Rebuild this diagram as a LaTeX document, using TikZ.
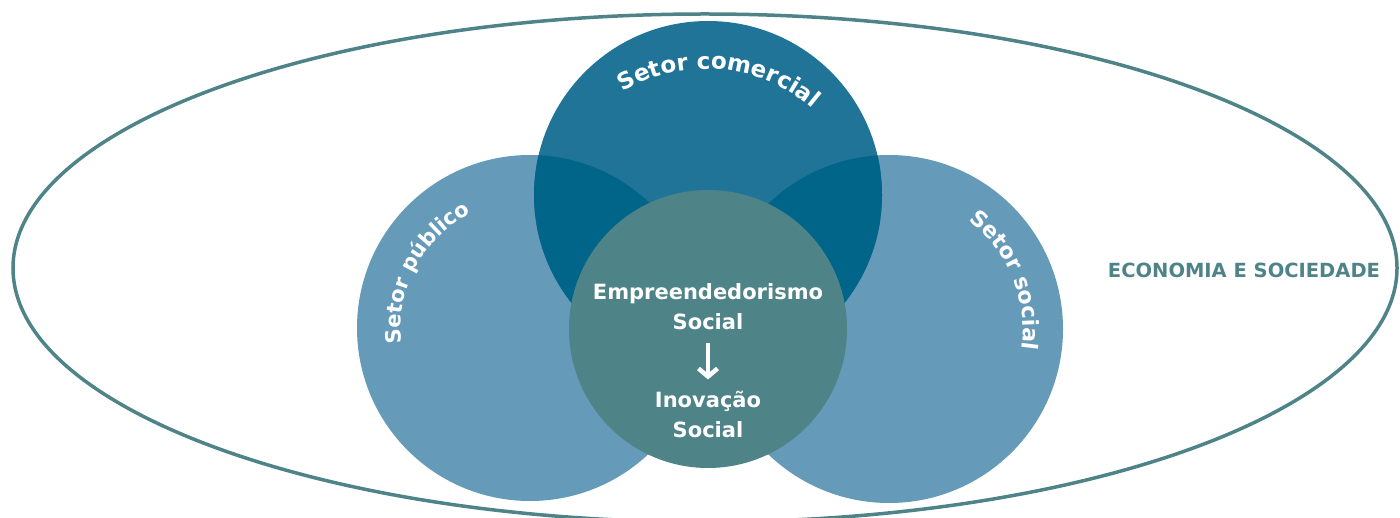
\documentclass[tikz,border=0pt]{standalone}
\usepackage{fontspec}
\setmainfont{DejaVu Sans}
\usetikzlibrary{decorations.text,arrows.meta,positioning}

\definecolor{comercial}{RGB}{32,116,152}
\definecolor{lados}{RGB}{101,154,185}
\definecolor{cruzamento}{RGB}{0,101,137}
\definecolor{nucleo}{RGB}{78,131,135}

\newcommand{\arcofonte}[1]{\color{white}\bfseries\fontsize{#1}{#1}\selectfont}

\tikzset{
	rotulo/.style={text=white, font=\bfseries\fontsize{21pt}{30pt}\selectfont, align=center, inner sep=0pt},
	arco/.style 2 args={decorate, decoration={text along path, text align=center, text={|\arcofonte{#1}|#2}}},
	seta/.style={white, line width=4.5pt, -{Straight Barb[length=8pt, width=19pt, line width=4.5pt]}},
}

\begin{document}
\begin{tikzpicture}[x=1pt,y=1pt]
				\useasboundingbox (0,0) rectangle (1400,517);
				\coordinate (elipse) at (705,249);
				\coordinate (publico) at (530,189);
				\coordinate (privado) at (708,322);
				\coordinate (social) at (889,188);
				\coordinate (centro) at (708,188);
				\draw[nucleo, line width=3.5pt] (elipse) ellipse [x radius=692pt, y radius=254pt];
				\fill[lados] (publico) circle (173pt);
				\fill[lados] (social) circle (174pt);
				\fill[comercial] (privado) circle (174pt);
				\begin{scope}
					\clip (privado) circle (174pt);
					\fill[cruzamento] (publico) circle (173pt);
					\fill[cruzamento] (social) circle (174pt);
				\end{scope}
				\fill[nucleo] (centro) circle (139pt);
				\path[arco={23pt}{Setor comercial}] (706,284) ++(140:164pt) arc[start angle=140, end angle=30, radius=164pt];
				\path[arco={21pt}{Setor público}] (publico) ++(212:129pt) arc[start angle=212, end angle=92, radius=129pt];
				\path[arco={22pt}{Setor social}] (social) ++(75:134pt) arc[start angle=75, end angle=-30, radius=134pt];
				\node[rotulo, anchor=base] (empre) at (708,187) {Empreendedorismo\\Social};
				\node[rotulo, anchor=base] (inov) at (708,80) {Inovação\\Social};
				\draw[seta, shorten <=13pt, shorten >=11pt] (empre) -- (inov);
				\node[text=nucleo, font=\bfseries\fontsize{19.5pt}{20pt}\selectfont, anchor=base] (economia) at (1244,239) {ECONOMIA E SOCIEDADE};
			\end{tikzpicture}
\end{document}
